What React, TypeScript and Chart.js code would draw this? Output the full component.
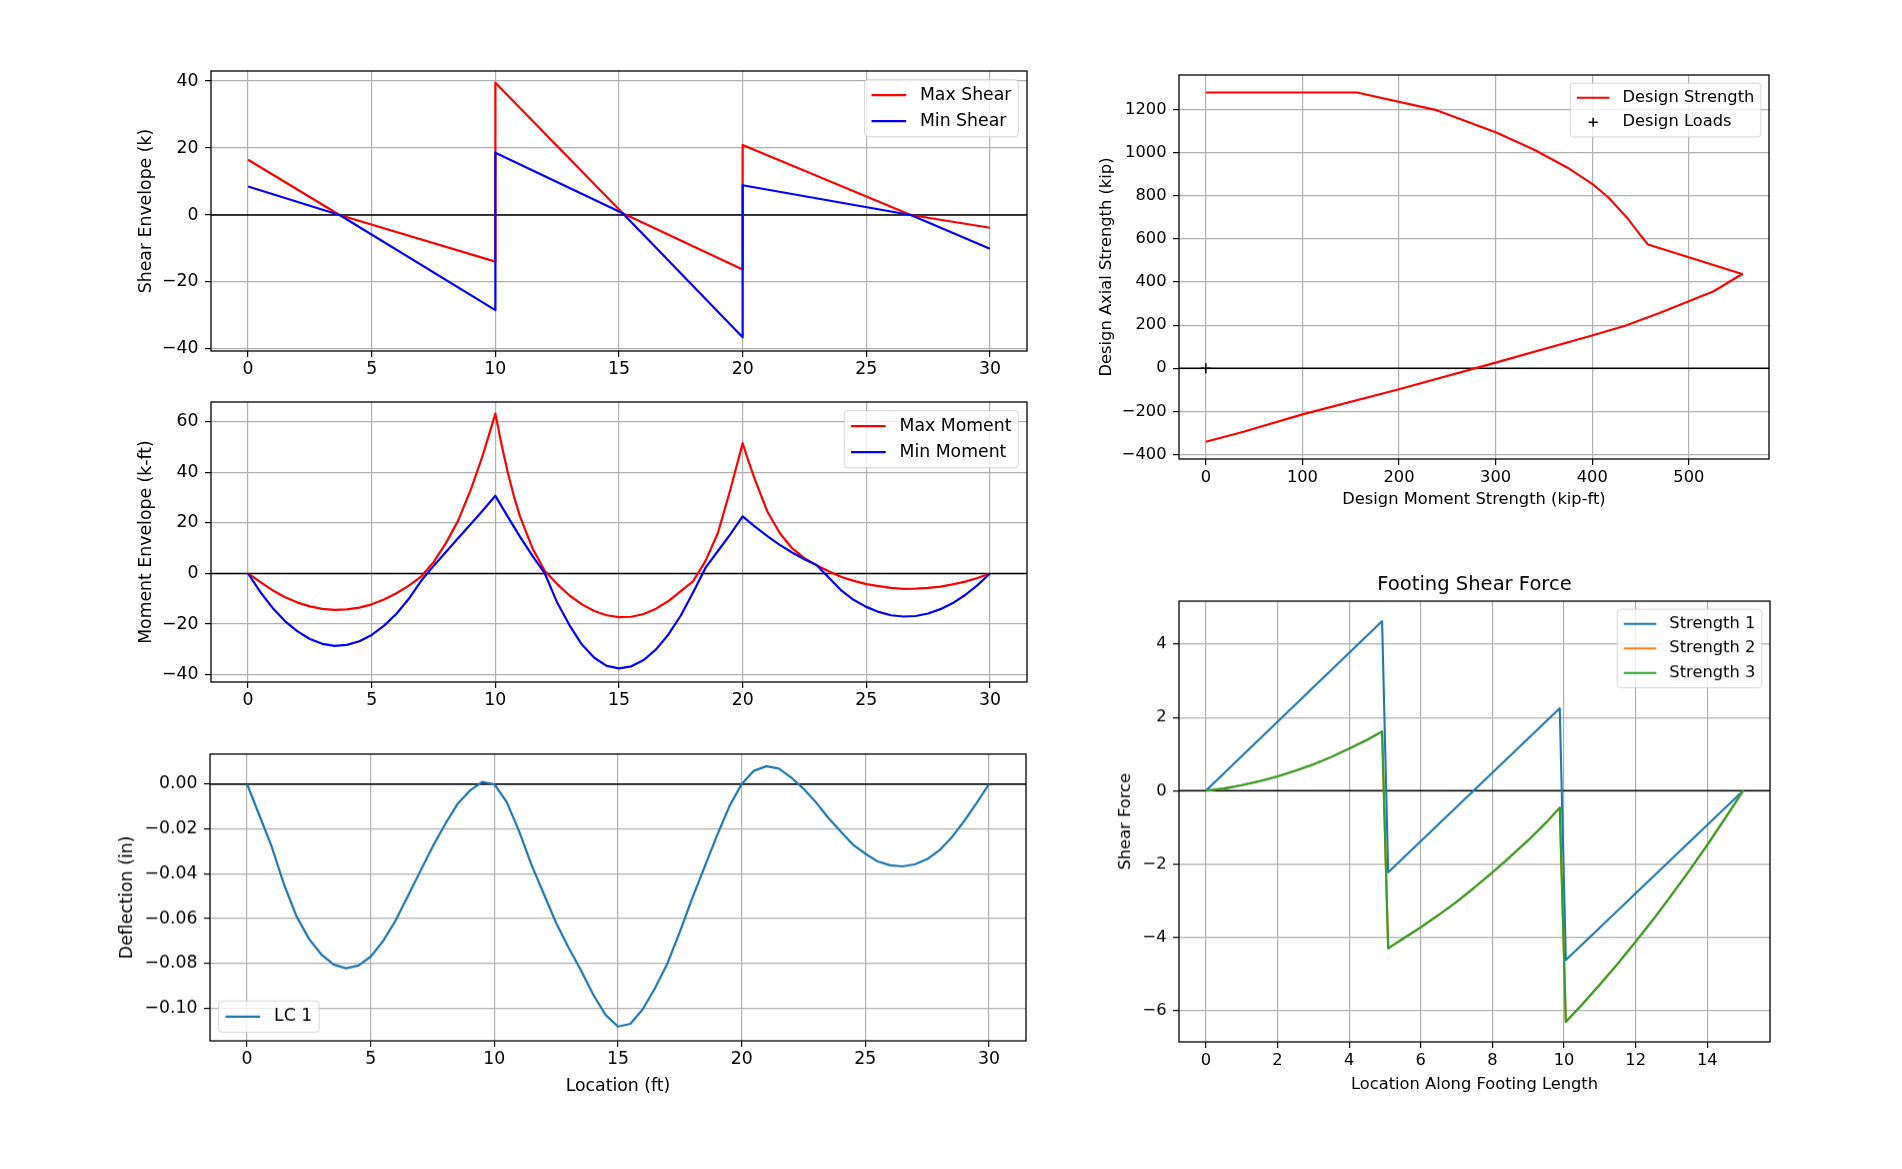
import React, { useEffect, useRef } from "react";
import { Chart, registerables } from "chart.js";
Chart.register(...registerables);

const FONT_FAMILY = "'DejaVu Sans', 'Liberation Sans', sans-serif";

// ---------------- Panel 1: shear envelope ----------------
const maxShearX = [0, 3.7, 10, 10, 15.15, 20, 20, 26.8, 30];
const maxShearY = [16.5, 0, -13.9, 39.5, 0.5, -16.3, 20.9, 0, -3.8];
const minShearX = [0, 3.7, 10, 10, 15.15, 20, 20, 26.8, 30];
const minShearY = [8.5, 0, -28.4, 18.6, 0.5, -36.5, 8.9, 0, -10.1];
const shearYTicks = [-40, -20, 0, 20, 40];
const beamXTicks = [0, 5, 10, 15, 20, 25, 30];

// ---------------- Panel 2: moment envelope ----------------
const maxMomentX = [0, 0.5, 1, 1.5, 2, 2.5, 3, 3.5, 4, 4.5, 5, 5.5, 6, 6.5, 7, 7.5, 8, 8.5, 9, 9.5, 10, 10.25, 10.5, 10.75, 11, 11.5, 12, 12.5, 13, 13.5, 14, 14.5, 15, 15.5, 16, 16.5, 17, 17.5, 18, 18.5, 19, 19.5, 20, 20.25, 20.5, 21, 21.5, 22, 22.5, 23, 23.5, 24, 24.5, 25, 25.5, 26, 26.5, 27, 27.5, 28, 28.5, 29, 29.5, 30];
const maxMomentY = [0, -3.4, -6.7, -9.4, -11.5, -13.0, -14.0, -14.4, -14.2, -13.5, -12.2, -10.3, -7.8, -4.8, -1.2, 4.5, 12, 21, 33, 47, 63.2, 51, 40, 30.5, 22.5, 10, 1, -4.2, -8.7, -12.2, -14.8, -16.5, -17.25, -17.1, -16.0, -13.9, -10.9, -7.0, -3.0, 5, 16, 33, 51.5, 44, 37, 24.5, 16, 10, 6, 3.2, 0.8, -1.4, -2.9, -4.2, -5.0, -5.7, -6.05, -6.0, -5.7, -5.2, -4.3, -3.2, -1.8, 0];
const minMomentX = [0, 0.5, 1, 1.5, 2, 2.5, 3, 3.5, 4, 4.5, 5, 5.5, 6, 6.5, 7, 7.5, 8, 8.5, 9, 9.5, 10, 10.5, 11, 11.5, 12, 12.5, 13, 13.5, 14, 14.5, 15, 15.5, 16, 16.5, 17, 17.5, 18, 18.5, 19, 19.5, 20, 20.5, 21, 21.5, 22, 22.5, 23, 23.5, 24, 24.5, 25, 25.5, 26, 26.5, 27, 27.5, 28, 28.5, 29, 29.5, 30];
const minMomentY = [0, -7.4, -13.7, -18.9, -22.9, -25.9, -27.8, -28.6, -28.2, -26.8, -24.3, -20.6, -15.9, -10.0, -2.9, 3, 8.5, 14, 19.5, 25, 30.7, 22.5, 14.5, 7, 0, -11.5, -20.5, -28.1, -33.3, -36.5, -37.5, -36.7, -34.2, -30, -24.1, -16.6, -7.4, 2.3, 8.9, 15.5, 22.6, 18.5, 14.8, 11.3, 8.3, 5.6, 3.3, -1.8, -6.8, -10.5, -13.2, -15.2, -16.5, -17.0, -16.8, -15.8, -14.1, -11.7, -8.5, -4.6, 0];
const momentYTicks = [-40, -20, 0, 20, 40, 60];

// ---------------- Panel 3: deflection ----------------
const deflX = [0, 0.5, 1, 1.5, 2, 2.5, 3, 3.5, 4, 4.5, 5, 5.5, 6, 6.5, 7, 7.5, 8, 8.5, 9, 9.5, 10, 10.5, 11, 11.5, 12, 12.5, 13, 13.5, 14, 14.5, 15, 15.5, 16, 16.5, 17, 17.5, 18, 18.5, 19, 19.5, 20, 20.5, 21, 21.5, 22, 22.5, 23, 23.5, 24, 24.5, 25, 25.5, 26, 26.5, 27, 27.5, 28, 28.5, 29, 29.5, 30];
const deflY = [0, -0.014, -0.028, -0.045, -0.059, -0.069, -0.076, -0.0805, -0.0822, -0.081, -0.077, -0.070, -0.061, -0.050, -0.039, -0.028, -0.018, -0.009, -0.003, 0.001, 0.0, -0.008, -0.021, -0.036, -0.049, -0.062, -0.073, -0.083, -0.094, -0.103, -0.1082, -0.107, -0.1005, -0.091, -0.080, -0.066, -0.051, -0.037, -0.023, -0.010, 0.0, 0.006, 0.008, 0.007, 0.003, -0.002, -0.008, -0.015, -0.021, -0.027, -0.031, -0.0345, -0.0362, -0.0367, -0.0358, -0.0335, -0.0295, -0.0237, -0.0165, -0.0085, 0];
const deflYTicks = [-0.1, -0.08, -0.06, -0.04, -0.02, 0];

// ---------------- Panel 4: interaction diagram ----------------
const strengthM = [0, 156.5, 238.8, 300.7, 341, 374.4, 400.6, 417, 436, 448, 457.7, 555.2, 525.7, 498, 469.6, 434, 398, 300, 200, 100, 39, 0];
const strengthP = [1279, 1279, 1197, 1093, 1011, 930, 853, 791, 698, 628, 574, 437, 357, 307, 256, 197, 150, 26, -98, -214, -295, -341];
const loadsM = [0];
const loadsP = [0];
const momentXTicks = [0, 100, 200, 300, 400, 500];
const axialYTicks = [-400, -200, 0, 200, 400, 600, 800, 1000, 1200];

// ---------------- Panel 5: footing shear ----------------
const str1X = [0, 4.92, 5.09, 9.88, 10.05, 15];
const str1Y = [0, 4.63, -2.23, 2.25, -4.62, 0];
const str2X = [0, 0.5, 1, 1.5, 2, 2.5, 3, 3.5, 4, 4.5, 4.92, 5.09, 5.5, 6, 6.5, 7, 7.5, 8, 8.5, 9, 9.5, 9.88, 10.05, 10.5, 11, 11.5, 12, 12.5, 13, 13.5, 14, 14.5, 15];
const str2Y = [0, 0.06, 0.15, 0.26, 0.39, 0.55, 0.72, 0.92, 1.15, 1.39, 1.62, -4.3, -4.04, -3.73, -3.39, -3.03, -2.64, -2.23, -1.8, -1.35, -0.87, -0.46, -6.31, -5.84, -5.29, -4.72, -4.12, -3.5, -2.85, -2.18, -1.48, -0.75, 0];
const str3X = [0, 0.5, 1, 1.5, 2, 2.5, 3, 3.5, 4, 4.5, 4.92, 5.09, 5.5, 6, 6.5, 7, 7.5, 8, 8.5, 9, 9.5, 9.88, 10.05, 10.5, 11, 11.5, 12, 12.5, 13, 13.5, 14, 14.5, 15];
const str3Y = [0, 0.06, 0.15, 0.26, 0.39, 0.55, 0.72, 0.92, 1.15, 1.39, 1.62, -4.3, -4.04, -3.73, -3.39, -3.03, -2.64, -2.23, -1.8, -1.35, -0.87, -0.46, -6.31, -5.84, -5.29, -4.72, -4.12, -3.5, -2.85, -2.18, -1.48, -0.75, 0];
const footXTicks = [0, 2, 4, 6, 8, 10, 12, 14];
const footYTicks = [-6, -4, -2, 0, 2, 4];

type Series = { label: string; xs: number[]; ys: number[]; color: string; marker?: boolean };
type Spec = {
  key: string;
  rect: { l: number; t: number; r: number; b: number };
  fs: number;
  lw: number;
  ly: number;
  hx: number;
  padTop: number;
  xMin: number; xMax: number; yMin: number; yMax: number;
  xTicks: number[]; yTicks: number[];
  xDec: number; yDec: number;
  xTitle?: string; yTitle: string; title?: string;
  series: Series[];
  legendLoc: "ur" | "ll";
};

const fmt = (v: number, d: number) => (v < 0 && Math.abs(v) > 1e-12 ? "\u2212" : "") + Math.abs(v).toFixed(d);

const SPECS: Spec[] = [
  {
    key: "shear", rect: { l: 211, t: 71, r: 1027, b: 351 }, fs: 17.3, lw: 2.2, ly: 75, hx: 32, padTop: 20,
    xMin: -1.5, xMax: 31.5, yMin: -40.6, yMax: 43.0, xTicks: beamXTicks, yTicks: shearYTicks, xDec: 0, yDec: 0,
    yTitle: "Shear Envelope (k)", legendLoc: "ur",
    series: [
      { label: "Max Shear", xs: maxShearX, ys: maxShearY, color: "#ff0000" },
      { label: "Min Shear", xs: minShearX, ys: minShearY, color: "#0000ff" },
    ],
  },
  {
    key: "moment", rect: { l: 211, t: 402, r: 1027, b: 682 }, fs: 17.3, lw: 2.2, ly: 75, hx: 32, padTop: 20,
    xMin: -1.5, xMax: 31.5, yMin: -42.9, yMax: 67.8, xTicks: beamXTicks, yTicks: momentYTicks, xDec: 0, yDec: 0,
    yTitle: "Moment Envelope (k-ft)", legendLoc: "ur",
    series: [
      { label: "Max Moment", xs: maxMomentX, ys: maxMomentY, color: "#ff0000" },
      { label: "Min Moment", xs: minMomentX, ys: minMomentY, color: "#0000ff" },
    ],
  },
  {
    key: "defl", rect: { l: 210, t: 754, r: 1026, b: 1040 }, fs: 17.3, lw: 2.2, ly: 93, hx: 55.5, padTop: 20,
    xMin: -1.5, xMax: 31.5, yMin: -0.1146, yMax: 0.01343, xTicks: beamXTicks, yTicks: deflYTicks, xDec: 0, yDec: 2,
    xTitle: "Location (ft)", yTitle: "Deflection (in)", legendLoc: "ll",
    series: [{ label: "LC 1", xs: deflX, ys: deflY, color: "#1f77b4" }],
  },
  {
    key: "pm", rect: { l: 1179, t: 75, r: 1769, b: 459 }, fs: 16.3, lw: 2.1, ly: 82, hx: 51, padTop: 20,
    xMin: -27.76, xMax: 582.96, yMin: -421, yMax: 1360, xTicks: momentXTicks, yTicks: axialYTicks, xDec: 0, yDec: 0,
    xTitle: "Design Moment Strength (kip-ft)", yTitle: "Design Axial Strength (kip)", legendLoc: "ur",
    series: [
      { label: "Design Strength", xs: strengthM, ys: strengthP, color: "#ff0000" },
      { label: "Design Loads", xs: loadsM, ys: loadsP, color: "#000000", marker: true },
    ],
  },
  {
    key: "footing", rect: { l: 1179, t: 601, r: 1770, b: 1041 }, fs: 16.3, lw: 2.1, ly: 63, hx: 52.5, padTop: 44,
    xMin: -0.75, xMax: 15.75, yMin: -6.857, yMax: 5.177, xTicks: footXTicks, yTicks: footYTicks, xDec: 0, yDec: 0,
    xTitle: "Location Along Footing Length", yTitle: "Shear Force", title: "Footing Shear Force", legendLoc: "ur",
    series: [
      { label: "Strength 1", xs: str1X, ys: str1Y, color: "#1f77b4" },
      { label: "Strength 2", xs: str2X, ys: str2Y, color: "#ff7f0e" },
      { label: "Strength 3", xs: str3X, ys: str3Y, color: "#2ca02c" },
    ],
  },
];

function drawLegend(ctx: CanvasRenderingContext2D, a: any, spec: Spec) {
  const fs = spec.fs;
  const items = spec.series;
  ctx.font = `${fs}px ${FONT_FAMILY}`;
  const pad = 0.4 * fs, hl = 2 * fs, htp = 0.8 * fs, gap = 0.5 * fs, pitch = 1.5 * fs;
  const tw = Math.max(...items.map((s) => ctx.measureText(s.label).width));
  const w = pad * 2 + hl + htp + tw;
  const h = pad * 2 + items.length * fs + (items.length - 1) * 0.5 * fs;
  const x0 = spec.legendLoc === "ur" ? a.right - gap - w : a.left + gap;
  const y0 = spec.legendLoc === "ur" ? a.top + gap : a.bottom - gap - h;
  ctx.beginPath();
  (ctx as any).roundRect(x0, y0, w, h, 0.2 * fs);
  ctx.fillStyle = "rgba(255,255,255,0.8)";
  ctx.fill();
  ctx.strokeStyle = "rgba(204,204,204,0.8)";
  ctx.lineWidth = 1;
  ctx.stroke();
  items.forEach((s, i) => {
    const cy = y0 + pad + fs / 2 + i * pitch;
    if (s.marker) {
      const cx = x0 + pad + hl / 2;
      ctx.strokeStyle = s.color;
      ctx.lineWidth = 1.5;
      ctx.beginPath();
      ctx.moveTo(cx - 4.5, cy);
      ctx.lineTo(cx + 4.5, cy);
      ctx.moveTo(cx, cy - 4.5);
      ctx.lineTo(cx, cy + 4.5);
      ctx.stroke();
    } else {
      ctx.strokeStyle = s.color;
      ctx.lineWidth = spec.lw;
      ctx.beginPath();
      ctx.moveTo(x0 + pad, cy);
      ctx.lineTo(x0 + pad + hl, cy);
      ctx.stroke();
    }
    ctx.fillStyle = "#000";
    ctx.textAlign = "left";
    ctx.textBaseline = "middle";
    ctx.fillText(s.label, x0 + pad + hl + htp, cy);
  });
}

function makeDecor(spec: Spec) {
  return {
    id: "decor_" + spec.key,
    beforeDatasetsDraw(chart: any) {
      const { ctx, chartArea: a } = chart;
      const y0 = chart.scales.y.getPixelForValue(0);
      ctx.save();
      ctx.strokeStyle = "#000";
      ctx.lineWidth = 1.6;
      ctx.beginPath();
      ctx.moveTo(a.left, y0);
      ctx.lineTo(a.right, y0);
      ctx.stroke();
      ctx.restore();
    },
    afterDraw(chart: any) {
      const { ctx, chartArea: a } = chart;
      ctx.save();
      ctx.strokeStyle = "#000";
      ctx.lineWidth = 1.3;
      ctx.strokeRect(a.left, a.top, a.right - a.left, a.bottom - a.top);
      if (spec.title) {
        ctx.font = `${spec.fs * 1.2}px ${FONT_FAMILY}`;
        ctx.fillStyle = "#000";
        ctx.textAlign = "center";
        ctx.textBaseline = "middle";
        ctx.fillText(spec.title, (a.left + a.right) / 2, a.top - 16);
      }
      drawLegend(ctx, a, spec);
      ctx.restore();
    },
  };
}

const PAD_R = 16;
const PAD_B = 2;

function Panel({ spec }: { spec: Spec }) {
  const ref = useRef<HTMLCanvasElement>(null);
  const { rect } = spec;
  const width = rect.r - rect.l + spec.ly + PAD_R;
  const height = rect.b - rect.t + spec.padTop + spec.hx + PAD_B;

  useEffect(() => {
    const font = { family: FONT_FAMILY, size: spec.fs };
    const n = spec.series.length;
    const datasets = spec.series.map((s, i) => ({
      label: s.label,
      data: s.xs.map((x, k) => ({ x, y: s.ys[k] })),
      borderColor: s.color,
      backgroundColor: s.color,
      borderWidth: s.marker ? 1.5 : spec.lw,
      pointRadius: s.marker ? 5 : 0,
      pointHoverRadius: 0,
      pointStyle: s.marker ? "cross" : "circle",
      showLine: !s.marker,
      tension: 0,
      fill: false,
      borderJoinStyle: "round" as const,
      order: n - i,
    }));
    const grid = { color: "#b0b0b0", lineWidth: 1.2, tickColor: "#000", tickLength: 6, tickWidth: 1.2, drawTicks: true };
    const chart = new Chart(ref.current as HTMLCanvasElement, {
      type: "line",
      data: { datasets },
      plugins: [makeDecor(spec)],
      options: {
        animation: false,
        responsive: true,
        maintainAspectRatio: false,
        devicePixelRatio: 1,
        events: [],
        layout: { padding: { left: 0, top: spec.padTop, right: PAD_R, bottom: PAD_B } },
        plugins: { legend: { display: false }, tooltip: { enabled: false }, title: { display: false } },
        scales: {
          x: {
            type: "linear",
            min: spec.xMin,
            max: spec.xMax,
            afterBuildTicks: (s: any) => { s.ticks = spec.xTicks.map((v) => ({ value: v })); },
            afterFit: (s: any) => { s.height = spec.hx; },
            ticks: { autoSkip: false, maxRotation: 0, minRotation: 0, padding: 2.5, color: "#000", font, callback: (v: any) => fmt(Number(v), spec.xDec) },
            grid,
            border: { display: false },
            title: spec.xTitle ? { display: true, text: spec.xTitle, color: "#000", font, padding: 0 } : { display: false },
          },
          y: {
            type: "linear",
            min: spec.yMin,
            max: spec.yMax,
            afterBuildTicks: (s: any) => { s.ticks = spec.yTicks.map((v) => ({ value: v })); },
            afterFit: (s: any) => { s.width = spec.ly; },
            ticks: { autoSkip: false, padding: 6.5, color: "#000", font, callback: (v: any) => fmt(Number(v), spec.yDec) },
            grid,
            border: { display: false },
            title: { display: true, text: spec.yTitle, color: "#000", font, padding: 0 },
          },
        },
      } as any,
    });
    return () => chart.destroy();
  }, []);

  return (
    <div style={{ position: "absolute", left: rect.l - spec.ly, top: rect.t - spec.padTop, width, height }}>
      <canvas ref={ref} style={{ display: "block" }} />
    </div>
  );
}

export default function App() {
  return (
    <div style={{ position: "absolute", left: 0, top: 0, width: 1902, height: 1169, background: "#fff", overflow: "hidden" }}>
      {SPECS.map((s) => (
        <Panel key={s.key} spec={s} />
      ))}
    </div>
  );
}
